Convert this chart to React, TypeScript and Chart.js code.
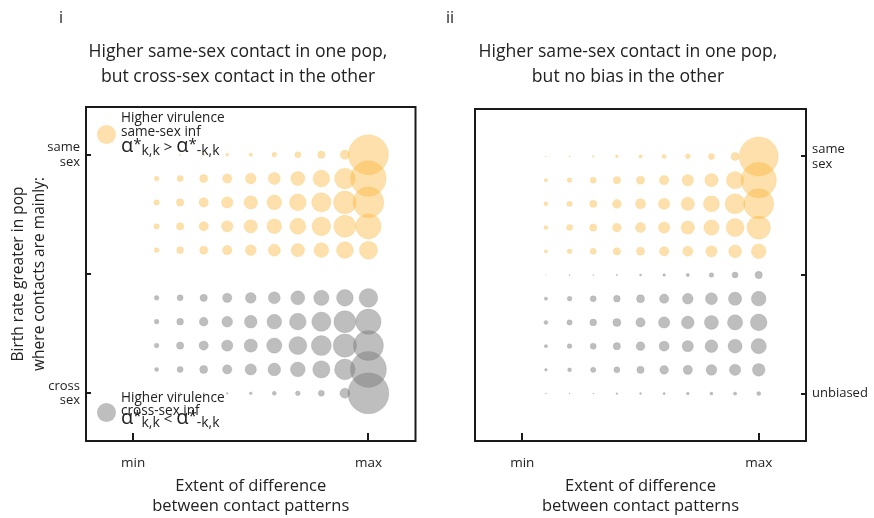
import React, { useEffect, useRef } from 'react';
import { Chart, registerables } from 'chart.js';

Chart.register(...registerables);

// ---------- data ----------
const extentSteps = [1, 2, 3, 4, 5, 6, 7, 8, 9, 10];
const xTickValues = [0, 10];
const xTickLabels = ['min', 'max'];

const yTickValues = [0, 5, 10];
const leftYTickLabels = [['cross', 'sex'], '', ['same', 'sex']];
const rightYTickLabels = ['unbiased', '', ['same', 'sex']];

const sameSexRows = [10, 9, 8, 7, 6];
const crossSexRows = [4, 3, 2, 1, 0];
const unbiasedRows = [5, 4, 3, 2, 1, 0];

// bubble diameters, one list per row (columns = extentSteps)
const leftSameSexSizes = [
  [1, 1.5, 2, 2.7, 3.3, 4.7, 6, 7.3, 9.3, 40],
  [4.7, 6, 8, 9.3, 10.7, 12, 14, 16.7, 20.7, 35.5],
  [5.3, 7.3, 9.3, 11.3, 13.3, 14.7, 16.7, 19.3, 22.7, 30.7],
  [5.3, 7.3, 9.3, 11.3, 13.3, 14.7, 16, 18.7, 22, 25.3],
  [4.7, 6.7, 8, 9.3, 10.7, 12, 13.3, 14.7, 16.7, 18],
];
const leftCrossSexSizes = [
  [4.7, 6, 7.3, 9.3, 10.7, 12, 14, 15.3, 16.7, 18.7],
  [4.7, 6.7, 8.7, 10.7, 12.7, 14.7, 16.7, 19.3, 22, 25.3],
  [4.7, 7.3, 9.3, 11.3, 13.3, 15.3, 18, 20, 23.3, 30],
  [4, 6, 8, 9.3, 11.3, 12.7, 14.7, 17.3, 20.7, 36],
  [1, 1.3, 1.5, 1.7, 2.7, 4, 4.7, 6, 10, 41],
];
const rightSameSexSizes = [
  [1, 1.3, 1.7, 2.7, 3.3, 4, 4.7, 6, 8, 39],
  [3.3, 4.7, 6, 7.3, 8, 9.3, 11.3, 13.3, 17.3, 35.3],
  [4, 5.3, 7.3, 8.7, 10, 11.3, 13.3, 16, 20, 30],
  [4, 6, 7.3, 8.7, 10, 11.3, 13.3, 15.3, 18, 23.3],
  [3.3, 4.7, 6, 7.3, 8, 9.3, 10, 11.3, 12.7, 14.7],
];
const rightUnbiasedSizes = [
  [0.5, 1, 1, 1.3, 2, 2.7, 3.3, 4.7, 6, 7.3],
  [3.3, 4.7, 6, 6.7, 8, 9.3, 10.7, 12, 13.3, 14.7],
  [4, 5.3, 6.7, 8, 9.3, 11.3, 12.7, 14, 15.3, 16.7],
  [3.3, 4.7, 6, 7.3, 8.7, 10, 11.3, 12.7, 14, 15.3],
  [2.7, 4, 5.3, 6, 7.3, 8.7, 9.3, 10.7, 11.3, 12.7],
  [1, 1, 1, 1.7, 2, 2.3, 2.7, 3, 3.3, 4],
];

const leftPanelLabel = 'i';
const rightPanelLabel = 'ii';
const leftTitle = ['Higher same-sex contact in one pop,', 'but cross-sex contact in the other'];
const rightTitle = ['Higher same-sex contact in one pop,', 'but no bias in the other'];
const xAxisTitle = ['Extent of difference', 'between contact patterns'];
const yAxisTitle = ['Birth rate greater in pop', 'where contacts are mainly:'];
const legendSame = ['Higher virulence', 'same-sex inf'];
const legendCross = ['Higher virulence', 'cross-sex inf'];

// ---------- styles ----------
const FONT = '"Open Sans", "DejaVu Sans", sans-serif';
const YELLOW = 'rgba(250,182,57,0.42)';
const YELLOW_RIM = 'rgba(250,182,57,0.18)';
const GRAY = 'rgba(125,125,125,0.5)';
const GRAY_RIM = 'rgba(125,125,125,0.2)';
const INK = '#1a1a1a';
const TEXT = '#222222';

function makeDatasets(rows: number[], sizes: number[][], color: string, rim: string, name: string) {
  return rows.map((row, ri) => ({
    label: name + ' ' + row,
    data: extentSteps.map((x, ci) => ({ x, y: row, r: sizes[ri][ci] / 2 })),
    backgroundColor: color,
    borderColor: rim,
    borderWidth: 1,
    hoverRadius: 0,
  }));
}

function framePlugin(side: 'left' | 'right') {
  return {
    id: 'frame' + side,
    afterDatasetsDraw(chart: any) {
      const { ctx, chartArea: a, scales } = chart;
      ctx.save();
      ctx.strokeStyle = INK;
      ctx.lineWidth = 2;
      ctx.strokeRect(a.left, a.top, a.right - a.left, a.bottom - a.top);
      ctx.beginPath();
      scales.x.ticks.forEach((t: any) => {
        const px = Math.round(scales.x.getPixelForValue(t.value));
        ctx.moveTo(px, a.bottom);
        ctx.lineTo(px, a.bottom - 8);
      });
      scales.y.ticks.forEach((t: any) => {
        const py = Math.round(scales.y.getPixelForValue(t.value));
        if (side === 'left') {
          ctx.moveTo(a.left, py);
          ctx.lineTo(a.left + 5, py);
        } else {
          ctx.moveTo(a.right, py);
          ctx.lineTo(a.right - 5, py);
        }
      });
      ctx.stroke();
      ctx.restore();
    },
  };
}

function headerPlugin(label: string, labelX: number, title: string[], centerX: number) {
  return {
    id: 'header',
    afterDraw(chart: any) {
      const { ctx } = chart;
      ctx.save();
      ctx.fillStyle = TEXT;
      ctx.textBaseline = 'middle';
      ctx.font = `16px ${FONT}`;
      ctx.textAlign = 'left';
      ctx.fillText(label, labelX, 18);
      ctx.font = `17.6px ${FONT}`;
      ctx.textAlign = 'center';
      title.forEach((line, i) => ctx.fillText(line, centerX, 52 + i * 25));
      ctx.restore();
    },
  };
}

function drawFormula(ctx: CanvasRenderingContext2D, x: number, baseline: number, op: string) {
  ctx.textAlign = 'left';
  ctx.textBaseline = 'alphabetic';
  const parts: [string, number, number][] = [
    ['α', 20, 0],
    ['*', 15, -3],
    ['k,k', 14, 3],
    [' ' + op + ' ', 15, 0],
    ['α', 20, 0],
    ['*', 15, -3],
    ['-k,k', 14, 3],
  ];
  let cx = x;
  parts.forEach(([t, size, dy]) => {
    ctx.font = `${size}px ${FONT}`;
    ctx.fillText(t, cx, baseline + dy);
    cx += ctx.measureText(t).width;
  });
}

const legendPlugin = {
  id: 'legendBox',
  afterDraw(chart: any) {
    const { ctx } = chart;
    ctx.save();
    ctx.fillStyle = YELLOW;
    ctx.beginPath();
    ctx.arc(106.5, 134.5, 9.5, 0, Math.PI * 2);
    ctx.fill();
    ctx.fillStyle = GRAY;
    ctx.beginPath();
    ctx.arc(106.5, 412.5, 9.5, 0, Math.PI * 2);
    ctx.fill();
    ctx.fillStyle = TEXT;
    ctx.font = `13.6px ${FONT}`;
    ctx.textAlign = 'left';
    ctx.textBaseline = 'middle';
    legendSame.forEach((l, i) => ctx.fillText(l, 121, 118 + i * 14));
    drawFormula(ctx, 121, 152, '>');
    ctx.font = `13.6px ${FONT}`;
    ctx.textAlign = 'left';
    ctx.textBaseline = 'middle';
    legendCross.forEach((l, i) => ctx.fillText(l, 121, 398 + i * 13.5));
    drawFormula(ctx, 121, 424, '<');
    ctx.restore();
  },
};

function xScale(height: number) {
  return {
    type: 'linear',
    position: 'bottom',
    min: -2,
    max: 12,
    afterBuildTicks: (s: any) => {
      s.ticks = xTickValues.map((v) => ({ value: v }));
    },
    afterFit: (s: any) => {
      s.height = height;
    },
    grid: { display: false, drawTicks: false },
    border: { display: false },
    ticks: {
      padding: 14,
      color: TEXT,
      font: { family: FONT, size: 13.5 },
      maxRotation: 0,
      callback: (v: number) => xTickLabels[xTickValues.indexOf(v)] ?? '',
    },
    title: {
      display: true,
      text: xAxisTitle,
      color: TEXT,
      font: { family: FONT, size: 16.5, lineHeight: 1.22 },
      padding: { top: 0, bottom: 2 },
    },
  };
}

function yScale(position: 'left' | 'right', width: number, labels: any[], withTitle: boolean) {
  return {
    type: 'linear',
    position,
    min: -2,
    max: 12,
    afterBuildTicks: (s: any) => {
      s.ticks = yTickValues.map((v) => ({ value: v }));
    },
    afterFit: (s: any) => {
      s.width = width;
    },
    grid: { display: false, drawTicks: false },
    border: { display: false },
    ticks: {
      padding: 6,
      color: TEXT,
      font: { family: FONT, size: 13, lineHeight: 1.15 },
      callback: (v: number) => labels[yTickValues.indexOf(v)] ?? '',
    },
    title: {
      display: withTitle,
      text: yAxisTitle,
      color: TEXT,
      font: { family: FONT, size: 15.5, lineHeight: 1.35 },
      padding: { top: 8, bottom: 0 },
    },
  };
}

function baseOptions(padding: any, scales: any) {
  return {
    animation: false,
    responsive: false,
    devicePixelRatio: 1,
    events: [],
    layout: { padding },
    plugins: {
      legend: { display: false },
      tooltip: { enabled: false },
      title: { display: false },
    },
    scales,
  };
}

export default function App() {
  const leftRef = useRef<HTMLCanvasElement>(null);
  const rightRef = useRef<HTMLCanvasElement>(null);

  useEffect(() => {
    const left = new Chart(leftRef.current as HTMLCanvasElement, {
      type: 'bubble',
      data: {
        datasets: [
          ...makeDatasets(sameSexRows, leftSameSexSizes, YELLOW, YELLOW_RIM, 'same-sex'),
          ...makeDatasets(crossSexRows, leftCrossSexSizes, GRAY, GRAY_RIM, 'cross-sex'),
        ],
      },
      options: baseOptions(
        { top: 107, right: 20, left: 0, bottom: 0 },
        { x: xScale(77), y: yScale('left', 86, leftYTickLabels, true) }
      ) as any,
      plugins: [framePlugin('left'), headerPlugin(leftPanelLabel, 59, leftTitle, 238), legendPlugin],
    });
    const right = new Chart(rightRef.current as HTMLCanvasElement, {
      type: 'bubble',
      data: {
        datasets: [
          ...makeDatasets(sameSexRows, rightSameSexSizes, YELLOW, YELLOW_RIM, 'same-sex'),
          ...makeDatasets(unbiasedRows, rightUnbiasedSizes, GRAY, GRAY_RIM, 'unbiased'),
        ],
      },
      options: baseOptions(
        { top: 109, right: 0, left: 38, bottom: 0 },
        { x: xScale(77), y: yScale('right', 68, rightYTickLabels, false) }
      ) as any,
      plugins: [framePlugin('right'), headerPlugin(rightPanelLabel, 9, rightTitle, 191)],
    });
    return () => {
      left.destroy();
      right.destroy();
    };
  }, []);

  return (
    <div style={{ position: 'fixed', left: 0, top: 0, width: 874, height: 518, background: '#fff' }}>
      <canvas ref={leftRef} width={437} height={518} style={{ position: 'absolute', left: 0, top: 0, width: 437, height: 518 }} />
      <canvas ref={rightRef} width={437} height={518} style={{ position: 'absolute', left: 437, top: 0, width: 437, height: 518 }} />
    </div>
  );
}
